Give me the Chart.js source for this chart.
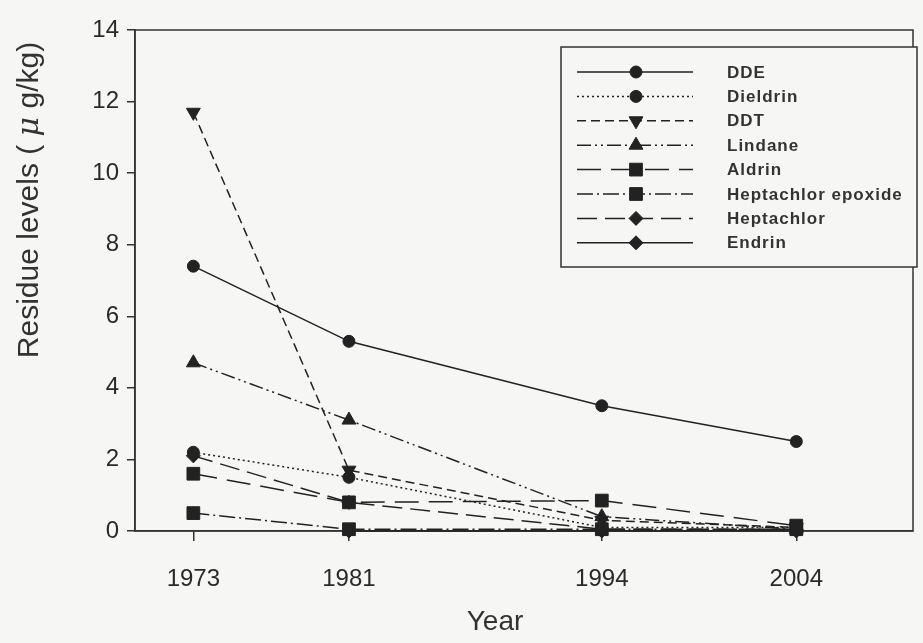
<!DOCTYPE html>
<html>
<head>
<meta charset="utf-8">
<script src="https://cdn.jsdelivr.net/npm/chart.js@4.4.0/dist/chart.umd.min.js"></script>
<style>
  html, body { margin: 0; padding: 0; background: #f6f6f4; }
  #wrap { width: 923px; height: 643px; }
</style>
</head>
<body>
<div id="wrap"><canvas id="chart" width="923" height="643"></canvas></div>
<script>
// данные
const years = [1973, 1981, 1994, 2004];
const seriesNames = ['DDE', 'Dieldrin', 'DDT', 'Lindane', 'Aldrin', 'Heptachlor epoxide', 'Heptachlor', 'Endrin'];
const dde = [7.4, 5.3, 3.5, 2.5];
const dieldrin = [2.2, 1.5, 0.1, 0.1];
const ddt = [11.7, 1.7, 0.3, 0.1];
const lindane = [4.7, 3.1, 0.4, 0.05];
const aldrin = [1.6, 0.8, 0.85, 0.15];
const heptachlorEpoxide = [0.5, 0.05, 0.05, 0.05];
const heptachlor = [2.1, 0.8, 0.05, 0.05];
const endrin = [null, 0, 0, 0];
const yTicks = [0, 2, 4, 6, 8, 10, 12, 14];

const INK = '#222';
const FONT = "'Liberation Sans', Arial, sans-serif";

// стиль каждой серии: штрих и маркер
const styles = [
    { dash: [],                  point: 'circle',   r: 6, rot: 0 },
    { dash: [2, 3],              point: 'circle',   r: 6, rot: 0 },
    { dash: [9, 5],              point: 'triangle', r: 8, rot: 180 },
    { dash: [14, 4, 2, 4, 2, 4], point: 'triangle', r: 8, rot: 0 },
    { dash: [24, 10],            point: 'rect',     r: 9, rot: 0 },
    { dash: [16, 4, 2, 4],       point: 'rect',     r: 9, rot: 0 },
    { dash: [20, 8],             point: 'rectRot',  r: 7, rot: 0 },
    { dash: [],                  point: 'rectRot',  r: 7, rot: 0 }
];
const values = [dde, dieldrin, ddt, lindane, aldrin, heptachlorEpoxide, heptachlor, endrin];

const datasets = seriesNames.map((name, i) => ({
    label: name,
    data: years.map((yr, j) => ({ x: yr, y: values[i][j] })),
    borderColor: INK,
    backgroundColor: INK,
    borderWidth: 1.5,
    borderDash: styles[i].dash,
    pointStyle: styles[i].point,
    pointRadius: styles[i].r,
    pointRotation: styles[i].rot,
    pointBorderWidth: 1,
    pointBackgroundColor: INK,
    pointBorderColor: INK,
    tension: 0,
    clip: false
}));

// рамка, легенда и подписи осей
const decorPlugin = {
    id: 'decor',
    beforeDatasetsDraw(chart) {
        const { ctx, chartArea: a } = chart;
        ctx.save();
        ctx.strokeStyle = '#333';
        ctx.lineWidth = 1.5;
        ctx.strokeRect(a.left, a.top, a.right - a.left, a.bottom - a.top);
        ctx.restore();
    },
    afterDraw(chart) {
        const ctx = chart.ctx;
        ctx.save();

        // легенда
        const bx = 561, by = 47, bw = 356, bh = 220;
        ctx.fillStyle = '#f6f6f4';
        ctx.fillRect(bx, by, bw, bh);
        ctx.strokeStyle = '#333';
        ctx.lineWidth = 1.5;
        ctx.strokeRect(bx, by, bw, bh);
        ctx.font = 'bold 17px ' + FONT;
        ctx.textBaseline = 'middle';
        if ('letterSpacing' in ctx) ctx.letterSpacing = '1px';
        seriesNames.forEach((name, i) => {
            const y = 72 + i * 24.4;
            ctx.strokeStyle = INK;
            ctx.fillStyle = INK;
            ctx.lineWidth = 1.5;
            ctx.setLineDash(styles[i].dash);
            ctx.beginPath();
            ctx.moveTo(577, y);
            ctx.lineTo(693, y);
            ctx.stroke();
            ctx.setLineDash([]);
            ctx.lineWidth = 1;
            Chart.helpers.drawPoint(ctx, {
                pointStyle: styles[i].point,
                radius: styles[i].r,
                rotation: styles[i].rot,
                borderWidth: 1
            }, 636, y);
            ctx.fillStyle = '#333';
            ctx.fillText(name, 727, y + 1);
        });
        if ('letterSpacing' in ctx) ctx.letterSpacing = '0px';

        // подпись оси X
        ctx.fillStyle = '#333';
        ctx.font = '28px ' + FONT;
        ctx.textAlign = 'center';
        ctx.textBaseline = 'middle';
        ctx.fillText('Year', 495, 622);

        // подпись оси Y (μ курсивом)
        ctx.translate(30, 200);
        ctx.rotate(-Math.PI / 2);
        const p1 = 'Residue levels ( ';
        const p2 = '\u03bc';
        const p3 = ' g/kg)';
        ctx.font = '30px ' + FONT;
        const w1 = ctx.measureText(p1).width;
        const w3 = ctx.measureText(p3).width;
        ctx.font = "italic 30px 'DejaVu Serif', serif";
        const w2 = ctx.measureText(p2).width;
        let x = -(w1 + w2 + w3) / 2;
        ctx.textAlign = 'left';
        ctx.font = '30px ' + FONT;
        ctx.fillText(p1, x, 0);
        x += w1;
        ctx.font = "italic 30px 'DejaVu Serif', serif";
        ctx.fillText(p2, x, 0);
        x += w2;
        ctx.font = '30px ' + FONT;
        ctx.fillText(p3, x, 0);
        ctx.restore();
    }
};

const ctx = document.getElementById('chart').getContext('2d');
new Chart(ctx, {
    type: 'line',
    data: { datasets },
    options: {
        responsive: false,
        animation: false,
        layout: { padding: { top: 30, right: 6, left: 0, bottom: 0 } },
        plugins: {
            legend: { display: false },
            tooltip: { enabled: false }
        },
        scales: {
            x: {
                type: 'linear',
                min: 1970,
                max: 2010,
                afterBuildTicks: s => { s.ticks = years.map(v => ({ value: v })); },
                afterFit: s => { s.height = 112; },
                grid: { drawOnChartArea: false, drawTicks: true, tickLength: 10, color: '#333', lineWidth: 1.5 },
                border: { display: true, color: '#333', width: 1.5 },
                ticks: { color: '#2a2a2a', font: { family: FONT, size: 24 }, padding: 24, maxRotation: 0, callback: v => String(v) }
            },
            y: {
                min: 0,
                max: 14,
                afterBuildTicks: s => { s.ticks = yTicks.map(v => ({ value: v })); },
                afterFit: s => { s.width = 135; },
                grid: { drawOnChartArea: false, drawTicks: true, tickLength: 8, color: '#333', lineWidth: 1.5 },
                border: { display: true, color: '#333', width: 1.5 },
                ticks: { color: '#2a2a2a', font: { family: FONT, size: 24 }, padding: 8 }
            }
        }
    },
    plugins: [decorPlugin]
});
</script>
</body>
</html>
